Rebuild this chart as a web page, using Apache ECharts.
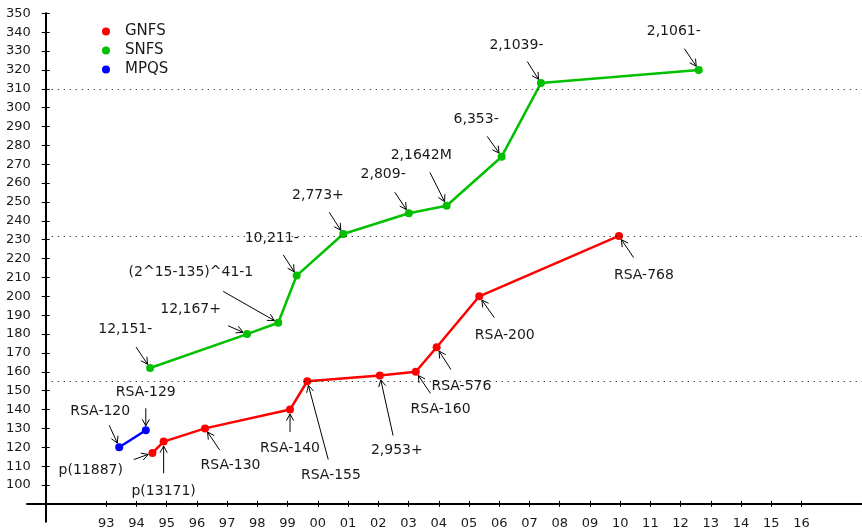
<!DOCTYPE html>
<html>
<head>
<meta charset="utf-8">
<title>Factoring records</title>
<script src="https://cdn.jsdelivr.net/npm/echarts@6/dist/echarts.min.js"></script>
<style>
	html, body { margin: 0; padding: 0; background: #fff; }
	#chart { width: 862px; height: 530px; }
</style>
</head>
<body>
<div id="chart"></div>
<script>
'use strict';

// years are counted from 1900 (2005 -> 105), values are decimal digits
var gnfsNames = ['p(11887)', 'p(13171)', 'RSA-130', 'RSA-140', 'RSA-155', '2,953+', 'RSA-160', 'RSA-576', 'RSA-200', 'RSA-768'];
var gnfsYears = [94.53, 94.90, 96.27, 99.08, 99.65, 102.05, 103.24, 103.93, 105.34, 109.96];
var gnfsDigits = [117, 123, 130, 140, 155, 158, 160, 173, 200, 232];

var snfsNames = ['12,151-', '12,167+', '(2^15-135)^41-1', '10,211-', '2,773+', '2,809-', '2,1642M', '6,353-', '2,1039-', '2,1061-'];
var snfsYears = [94.45, 97.66, 98.69, 99.30, 100.84, 103.01, 104.26, 106.08, 107.38, 112.60];
var snfsDigits = [162, 180, 186, 211, 233, 244, 248, 274, 313, 320];

var mpqsNames = ['RSA-120', 'RSA-129'];
var mpqsYears = [93.43, 94.31];
var mpqsDigits = [120, 129];

// 512, 768 and 1024 bit marks
var limitDigits = [155, 232, 310];

var yearTicks = [93, 94, 95, 96, 97, 98, 99, 100, 101, 102, 103, 104, 105, 106, 107, 108, 109, 110, 111, 112, 113, 114, 115, 116];
var yearLabels = ['93', '94', '95', '96', '97', '98', '99', '00', '01', '02', '03', '04', '05', '06', '07', '08', '09', '10', '11', '12', '13', '14', '15', '16'];
var digitTicks = [100, 110, 120, 130, 140, 150, 160, 170, 180, 190, 200, 210, 220, 230, 240, 250, 260, 270, 280, 290, 300, 310, 320, 330, 340, 350];


(function(window, undefined){
	
	var FONT = 'DejaVu Sans',
			X_MIN = 90.38, X_MAX = 118.0,
			Y_MIN = 80.55, Y_MAX = 350,
			ORIGIN = [91, 90],
			GRID = { left: 27, right: 0, top: 13.3, bottom: 8.3 },
			W = 862, H = 530;
	
	// label placement: [tail dx, tail dy, text dx, text dy] in px from the point
	var gnfsNotes = [
		[-18.7, 6.6, -61.7, 17.3], [0, 31.7, 0, 50], [14.7, 21.7, 25.5, 36.7], [0, 22.4, 0, 39],
		[21, 78.3, 23.7, 94], [13.3, 60, 17, 74.7], [14.7, 21.6, 24.8, 38], [14.3, 22.3, 24.8, 39.3],
		[15, 21.3, 25.5, 38.7], [14.7, 21.7, 25, 39],
	];
	var snfsNotes = [
		[-14, -21, -24.8, -38.7], [-19, -8.3, -56.5, -25], [-55, -31.3, -87.3, -50.6], [-13.4, -20.7, -25, -37.5],
		[-14, -21.7, -25.3, -38.5], [-14, -21, -25.7, -38.7], [-16.7, -33.3, -25.4, -50.3], [-14.4, -20.3, -25.5, -37.2],
		[-13.7, -21.6, -24.5, -37.8], [-14.4, -21.3, -25, -38.2],
	];
	var mpqsNotes = [ [-10, -22, -19, -36], [0, -22, 0, -37.5] ];
	
	
	/**
	 * zip two arrays into [x, y] pairs
	 */
	function pairs(xs, ys){
		return xs.map(function(x, i){ return [x, ys[i]]; });
	}
	
	
	/**
	 * renderItem for the arrow + text of each record
	 * @param {Array} names
	 * @param {Array} notes
	 */
	function annotate(names, notes){
		var GAP = 4.5, HEAD = 7.5, ANGLE = 0.5;
		
		return function(params, api){
			var i = params.dataIndex,
					p = api.coord([api.value(0), api.value(1)]),
					o = notes[i],
					tail = [p[0]+o[0], p[1]+o[1]],
					dx = p[0]-tail[0], dy = p[1]-tail[1],
					len = Math.sqrt(dx*dx + dy*dy),
					ux = dx/len, uy = dy/len,
					tip = [p[0]-ux*GAP, p[1]-uy*GAP];
			
			function arm(sign){
				var a = Math.PI + sign*ANGLE, c = Math.cos(a), s = Math.sin(a);
				return [tip[0] + HEAD*(ux*c - uy*s), tip[1] + HEAD*(ux*s + uy*c)];
			}
			
			return {
				type: 'group',
				children: [
					{ type: 'line', shape: { x1: tail[0], y1: tail[1], x2: tip[0], y2: tip[1] }, style: { stroke: '#000', lineWidth: 1 } },
					{ type: 'polyline', shape: { points: [arm(1), tip, arm(-1)] }, style: { stroke: '#000', lineWidth: 1, fill: 'none' } },
					{ type: 'text', style: { text: names[i], x: p[0]+o[2], y: p[1]+o[3], align: 'center', verticalAlign: 'middle',
							fontSize: 14, fontFamily: FONT, fill: '#1a1a1a' } },
				],
			};
		};
	}
	
	
	function lineSeries(name, color, data){
		return {
			name: name,
			type: 'line',
			data: data,
			color: color,
			symbol: 'circle',
			symbolSize: 8,
			itemStyle: { color: color },
			lineStyle: { color: color, width: 2.5 },
			emphasis: { disabled: true },
			z: 3,
		};
	}
	
	function noteSeries(names, notes, data){
		return {
			type: 'custom',
			data: data,
			encode: { x: 0, y: 1 },
			renderItem: annotate(names, notes),
			silent: true,
			z: 4,
		};
	}
	
	
	var pxX = (W - GRID.left - GRID.right)/(X_MAX - X_MIN),
			pxY = (H - GRID.top - GRID.bottom)/(Y_MAX - Y_MIN),
			xOffset = -(ORIGIN[1] - Y_MIN)*pxY,
			yOffset = -(ORIGIN[0] - X_MIN)*pxX;
	
	var gnfs = pairs(gnfsYears, gnfsDigits),
			snfs = pairs(snfsYears, snfsDigits),
			mpqs = pairs(mpqsYears, mpqsDigits);
	
	var red = lineSeries('GNFS', '#ff0000', gnfs);
	red.markLine = {
		silent: true,
		symbol: 'none',
		label: { show: false },
		lineStyle: { color: '#000', width: 1, type: [1, 5] },
		emphasis: { disabled: true },
		data: limitDigits.map(function(v){ return [ { coord: [ORIGIN[0], v] }, { coord: [X_MAX, v] } ]; }),
	};
	
	function xAxis(outer){
		return {
			type: 'value', min: X_MIN, max: X_MAX, position: 'bottom', offset: xOffset,
			splitLine: { show: false },
			axisLine: { show: outer, lineStyle: { color: '#000', width: 2 } },
			axisTick: { show: true, inside: !outer, length: 3, customValues: yearTicks, lineStyle: { color: '#000', width: 1 } },
			axisLabel: {
				show: outer, margin: 13, customValues: yearTicks, color: '#1a1a1a', fontSize: 13, fontFamily: FONT,
				formatter: function(v){ return yearLabels[yearTicks.indexOf(Math.round(v))]; },
			},
		};
	}
	
	function yAxis(outer){
		return {
			type: 'value', min: Y_MIN, max: Y_MAX, position: 'left', offset: yOffset,
			splitLine: { show: false },
			axisLine: { show: outer, lineStyle: { color: '#000', width: 2 } },
			axisTick: { show: true, inside: !outer, length: 4, customValues: digitTicks, lineStyle: { color: '#000', width: 1 } },
			axisLabel: { show: outer, margin: 15, customValues: digitTicks, color: '#1a1a1a', fontSize: 13, fontFamily: FONT },
		};
	}
	
	var option = {
		animation: false,
		backgroundColor: '#fff',
		textStyle: { fontFamily: FONT },
		grid: { left: GRID.left, right: GRID.right, top: GRID.top, bottom: GRID.bottom, containLabel: false, outerBoundsMode: 'none' },
		legend: {
			data: ['GNFS', 'SNFS', 'MPQS'],
			orient: 'vertical',
			left: 102, top: 24,
			padding: 0,
			icon: 'circle',
			itemWidth: 8, itemHeight: 8, itemGap: 4,
			selectedMode: false,
			textStyle: { fontSize: 15, fontFamily: FONT, color: '#1a1a1a', padding: [0, 0, 0, 10] },
		},
		xAxis: [ xAxis(true), xAxis(false) ],
		yAxis: [ yAxis(true), yAxis(false) ],
		series: [
			red,
			lineSeries('SNFS', '#00c000', snfs),
			lineSeries('MPQS', '#0000ff', mpqs),
			noteSeries(gnfsNames, gnfsNotes, gnfs),
			noteSeries(snfsNames, snfsNotes, snfs),
			noteSeries(mpqsNames, mpqsNotes, mpqs),
		],
	};
	
	echarts.init(document.getElementById('chart'), null, { renderer: 'canvas' }).setOption(option);
	
})(typeof window !== 'undefined' ? window : this, undefined);
</script>
</body>
</html>
